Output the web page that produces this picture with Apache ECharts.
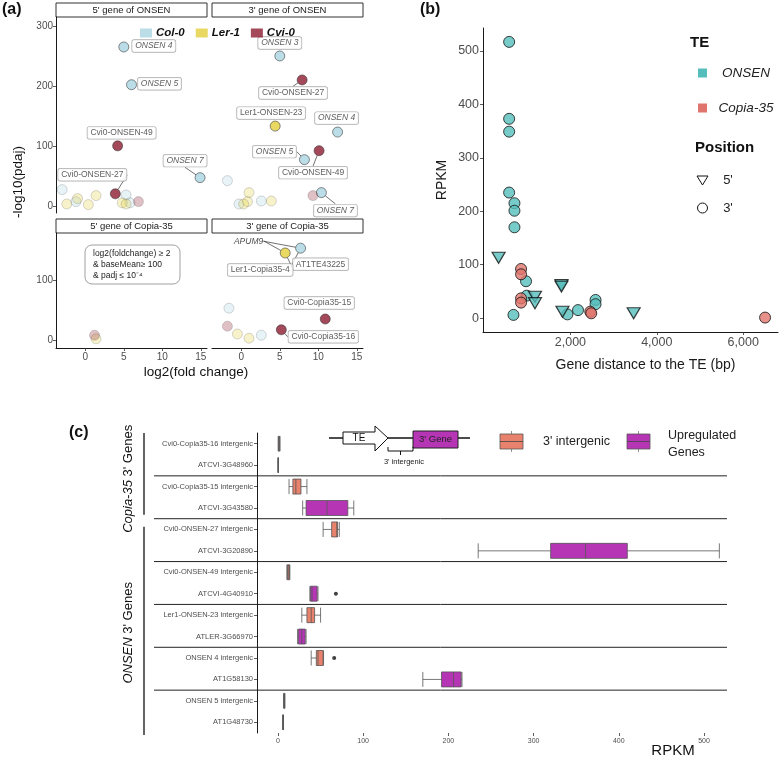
<!DOCTYPE html>
<html><head><meta charset="utf-8">
<script src="https://cdn.jsdelivr.net/npm/echarts@6/dist/echarts.min.js"></script>
<style>html,body{margin:0;padding:0;background:#fff}#c{width:780px;height:759px}</style>
</head><body><div id="c"></div>
<script>
// ===== Panel (a) data: [log2(fold change), -log10(padj), strain, label, gene]
const strains = ['Col-0', 'Ler-1', 'Cvi-0'];
const facetTitles = ["5' gene of ONSEN", "3' gene of ONSEN", "5' gene of Copia-35", "3' gene of Copia-35"];
const onsen5Points = [
  [-3.0, 27, 'Col-0', ''], [-2.4, 3, 'Ler-1', ''], [-1.2, 7, 'Col-0', ''], [-1.0, 12, 'Ler-1', ''],
  [0.4, 2, 'Ler-1', ''], [1.4, 17, 'Ler-1', ''], [5.3, 18, 'Col-0', ''], [4.8, 5, 'Ler-1', ''],
  [5.3, 3, 'Ler-1', ''], [5.8, 5, 'Col-0', ''], [6.9, 7, 'Cvi-0', ''],
  [5.0, 265, 'Col-0', 'ONSEN 4'], [6.0, 202, 'Col-0', 'ONSEN 5'], [4.2, 100, 'Cvi-0', 'Cvi0-ONSEN-49'],
  [3.9, 20, 'Cvi-0', 'Cvi0-ONSEN-27'], [14.9, 47, 'Col-0', 'ONSEN 7']
];
const onsen3Points = [
  [9.3, 17, 'Cvi-0', ''], [-1.8, 42, 'Col-0', ''], [1.0, 22, 'Ler-1', ''], [0.8, 7, 'Ler-1', ''],
  [-0.3, 3, 'Col-0', ''], [0.3, 3, 'Ler-1', ''], [2.6, 8, 'Col-0', ''], [3.9, 8, 'Ler-1', ''],
  [5.0, 250, 'Col-0', 'ONSEN 3'], [7.9, 210, 'Cvi-0', 'Cvi0-ONSEN-27'], [4.4, 133, 'Ler-1', 'Ler1-ONSEN-23'],
  [12.5, 123, 'Col-0', 'ONSEN 4'], [10.1, 92, 'Cvi-0', 'Cvi0-ONSEN-49'], [8.2, 77, 'Col-0', 'ONSEN 5'],
  [10.4, 22, 'Col-0', 'ONSEN 7']
];
const copia5Points = [
  [1.2, 8, 'Cvi-0', ''], [1.4, 2, 'Ler-1', '']
];
const copia3Points = [
  [-1.6, 53, 'Col-0', ''], [-1.8, 23, 'Cvi-0', ''], [-0.5, 10, 'Ler-1', ''], [1.0, 3, 'Ler-1', ''], [2.6, 8, 'Col-0', ''],
  [7.7, 153, 'Col-0', 'AT1TE43225', 'APUM9'], [5.7, 145, 'Ler-1', 'Ler1-Copia35-4', 'APUM9'],
  [10.9, 35, 'Cvi-0', 'Cvi0-Copia35-15'], [5.2, 17, 'Cvi-0', 'Cvi0-Copia35-16']
];
const aXTicks = [0, 5, 10, 15];
const aYTicksTop = [0, 100, 200, 300];
const aYTicksBottom = [0, 100];
const aAnnotation = ['log2(foldchange) \u2265 2', '& baseMean\u2265 100', '& padj \u2264 10\u207B\u2074'];

// ===== Panel (b) data: [gene distance to TE (bp), RPKM]
const onsen3Prime = [[582, 517], [582, 373], [582, 349], [582, 235], [705, 215], [705, 201], [705, 170],
  [973, 69], [988, 42], [682, 6], [1931, 7], [2176, 15], [2582, 34], [2582, 26]];
const onsen5Prime = [[338, 113], [1180, 40], [1180, 28], [1793, 62], [1793, 59], [1816, 12], [3464, 9]];
const copia3Prime = [[858, 92], [858, 82], [858, 37], [858, 29], [2460, 12], [2483, 9], [6506, 1]];
const bXTicks = [2000, 4000, 6000];
const bYTicks = [0, 100, 200, 300, 400, 500];

// ===== Panel (c) data: box stats [min, Q1, median, Q3, max] in RPKM
const rowNames = ['Cvi0-Copia35-16 intergenic', 'ATCVI-3G48960', 'Cvi0-Copia35-15 intergenic', 'ATCVI-3G43580',
  'Cvi0-ONSEN-27 intergenic', 'ATCVI-3G20890', 'Cvi0-ONSEN-49 intergenic', 'ATCVI-4G40910',
  'Ler1-ONSEN-23 intergenic', 'ATLER-3G66970', 'ONSEN 4 intergenic', 'AT1G58130',
  'ONSEN 5 intergenic', 'AT1G48730'];
const boxStats = [
  [0.2, 0.8, 1.2, 1.8, 2.5], [0.1, 0.2, 0.3, 0.4, 0.5],
  [13, 17.5, 21, 27, 34], [29, 33, 57.5, 82, 89],
  [53, 63, 69, 70, 72], [235, 320, 361, 410, 518],
  [10.5, 11, 12, 13.5, 14], [37.5, 38, 40, 46, 47],
  [28, 34, 39, 43, 50], [23, 24, 28, 32, 33],
  [39, 45, 47, 53, 53.5], [170, 192, 206, 215, 216],
  [6.5, 7, 7.3, 7.8, 8.2], [5.5, 5.8, 6, 6.2, 6.5]
];
const outlierPoints = [[68, 'ATCVI-4G40910'], [66, 'ONSEN 4 intergenic']];
const rowGroups = [{te: 'Copia-35', first: 0, last: 3}, {te: 'ONSEN', first: 4, last: 13}];
const cXTicks = [0, 100, 200, 300, 400, 500];

// ===== styles / layout
const FONT = "'Liberation Sans', Arial, Helvetica, sans-serif";
const strainColors = {'Col-0': '#AAD5E1', 'Ler-1': '#E3CF3C', 'Cvi-0': '#8C1C30'};
const TEAL = '#55BEBC', SALMON = '#E0756D';
const BOX_INTER = '#E8826C', BOX_GENE = '#B535B5';
const labelPlace = {
  '0|ONSEN 4': [30, -1, false], '0|ONSEN 5': [28, -1, false], '0|Cvi0-ONSEN-49': [4, -13, false],
  '0|Cvi0-ONSEN-27': [-23, -19, true], '0|ONSEN 7': [-15, -17, true],
  '1|ONSEN 3': [0, -13, false], '1|Cvi0-ONSEN-27': [-9, 13, true], '1|Ler1-ONSEN-23': [-4, -13, false],
  '1|ONSEN 4': [-1, -14, false], '1|Cvi0-ONSEN-49': [-6, 22, true], '1|ONSEN 5': [-30, -8, true],
  '1|ONSEN 7': [14, 18, true],
  '3|AT1TE43225': [20, 16, true], '3|Ler1-Copia35-4': [-25, 17, true], '3|Cvi0-Copia35-15': [-6, -16, false],
  '3|Cvi0-Copia35-16': [42, 7, true]
};
const genePlace = {'Col-0': [-52, -7], 'Ler-1': [-36, -12]};

const aGrids = [
  {left: 56, top: 17, width: 151, height: 196},
  {left: 212, top: 17, width: 151, height: 196},
  {left: 56, top: 233, width: 151, height: 115},
  {left: 212, top: 233, width: 151, height: 115}
];
const gridB = {left: 483, top: 28, width: 295, height: 304};
const gridC = {left: 257, top: 433, width: 485, height: 300};

const axisLineStyle = {color: '#1a1a1a', width: 1};
const tickStyle = {show: true, length: 3, lineStyle: {color: '#333', width: 0.8}};

const chart = echarts.init(document.getElementById('c'), null, {renderer: 'canvas'});

const xAxes = [], yAxes = [];
aGrids.forEach((g, f) => {
  const bottom = f >= 2, left = f % 2 === 0;
  xAxes.push({type: 'value', gridIndex: f, min: -3.8, max: 15.8, show: bottom,
    axisLine: {show: true, onZero: false, lineStyle: axisLineStyle},
    axisTick: Object.assign({}, tickStyle, {customValues: aXTicks}),
    axisLabel: {customValues: aXTicks, fontSize: 10, color: '#4d4d4d', margin: 4, fontFamily: FONT},
    splitLine: {show: false}});
  const yt = bottom ? aYTicksBottom : aYTicksTop;
  yAxes.push({type: 'value', gridIndex: f, min: bottom ? -13.3 : -12, max: bottom ? 178.3 : 315, show: left,
    axisLine: {show: true, onZero: false, lineStyle: axisLineStyle},
    axisTick: Object.assign({}, tickStyle, {customValues: yt}),
    axisLabel: {customValues: yt, fontSize: 10, color: '#4d4d4d', margin: 3, fontFamily: FONT},
    splitLine: {show: false}});
});
xAxes.push({type: 'value', gridIndex: 4, min: -23, max: 6805,
  name: 'Gene distance to the TE (bp)', nameLocation: 'middle', nameGap: 26,
  nameTextStyle: {fontSize: 14, color: '#1a1a1a', fontFamily: FONT, padding: [0, 0, 0, 30]},
  axisLine: {onZero: false, lineStyle: axisLineStyle},
  axisTick: Object.assign({}, tickStyle, {customValues: bXTicks}),
  axisLabel: {customValues: bXTicks, fontSize: 12.5, color: '#4d4d4d', margin: 4, fontFamily: FONT},
  splitLine: {show: false}});
yAxes.push({type: 'value', gridIndex: 4, min: -26, max: 543,
  name: 'RPKM', nameLocation: 'middle', nameGap: 34,
  nameTextStyle: {fontSize: 14, color: '#1a1a1a', fontFamily: FONT},
  axisLine: {onZero: false, lineStyle: axisLineStyle},
  axisTick: Object.assign({}, tickStyle, {customValues: bYTicks}),
  axisLabel: {customValues: bYTicks, fontSize: 12.5, color: '#4d4d4d', margin: 4, fontFamily: FONT},
  splitLine: {show: false}});
xAxes.push({type: 'value', gridIndex: 5, min: -24.6, max: 544.6,
  axisLine: {onZero: false, lineStyle: axisLineStyle},
  axisTick: Object.assign({}, tickStyle, {customValues: cXTicks}),
  axisLabel: {customValues: cXTicks, fontSize: 7, color: '#4d4d4d', margin: 5, fontFamily: FONT},
  splitLine: {show: false}});
yAxes.push({type: 'category', gridIndex: 5, data: rowNames, inverse: true,
  axisLine: {onZero: false, lineStyle: axisLineStyle},
  axisTick: Object.assign({}, tickStyle, {alignWithLabel: true}),
  axisLabel: {interval: 0, fontSize: 7.5, color: '#4d4d4d', margin: 4, fontFamily: FONT},
  splitLine: {show: false}});

const series = [];
const facets = [onsen5Points, onsen3Points, copia5Points, copia3Points];
facets.forEach((pts, f) => {
  strains.forEach(s => {
    const items = [], place = [];
    pts.forEach(p => {
      if (p[2] !== s) return;
      const item = {value: [p[0], p[1]]};
      if (!p[3]) {
        item.itemStyle = {opacity: 0.28};
      } else {
        const pl = labelPlace[f + '|' + p[3]] || [0, -12, false];
        item.label = {show: true, formatter: p[3], fontStyle: /^ONSEN \d/.test(p[3]) ? 'italic' : 'normal'};
        item.labelLine = {show: pl[2]};
        place[items.length] = pl;
      }
      items.push(item);
    });
    if (!items.length) return;
    series.push({type: 'scatter', name: s, xAxisIndex: f, yAxisIndex: f, data: items, symbolSize: 10,
      itemStyle: {color: strainColors[s], borderColor: '#333', borderWidth: 0.7},
      label: {show: false, position: 'inside', fontSize: 8.5, color: '#333', backgroundColor: '#fff',
        borderColor: '#9a9a9a', borderWidth: 0.7, borderRadius: 2, padding: [2, 3, 1, 3], fontFamily: FONT},
      labelLine: {show: false, lineStyle: {color: '#333', width: 0.7}},
      labelLayout: prm => { const o = place[prm.dataIndex]; return o ? {dx: o[0], dy: o[1]} : {}; },
      emphasis: {disabled: true}, silent: true, z: 3});
  });
  // gene-name annotations (italic, no box); repeated names share one text
  const gItems = [], gPlace = [], seen = {};
  pts.forEach(p => {
    if (!p[4]) return;
    gPlace.push(genePlace[p[2]] || [0, -14]);
    const dup = !!seen[p[4]];
    seen[p[4]] = true;
    gItems.push({value: [p[0], p[1]], label: {show: true, formatter: p[4], color: dup ? 'rgba(0,0,0,0)' : '#222'}, labelLine: {show: true}});
  });
  if (gItems.length) {
    series.push({type: 'scatter', xAxisIndex: f, yAxisIndex: f, data: gItems, symbolSize: 10,
      itemStyle: {color: 'rgba(0,0,0,0)'},
      label: {show: true, position: 'inside', fontSize: 8.5, fontStyle: 'italic', color: '#222', fontFamily: FONT},
      labelLine: {show: true, lineStyle: {color: '#333', width: 0.7}},
      labelLayout: prm => { const o = gPlace[prm.dataIndex]; return {dx: o[0], dy: o[1]}; },
      emphasis: {disabled: true}, silent: true, z: 2});
  }
});

const triPath = 'path://M0,0L12,0L6,10.4Z';
series.push({type: 'scatter', name: 'ONSEN', xAxisIndex: 4, yAxisIndex: 4, data: onsen3Prime, symbol: 'circle', symbolSize: 11,
  itemStyle: {color: TEAL, borderColor: '#111', borderWidth: 1}, emphasis: {disabled: true}, silent: true});
series.push({type: 'scatter', name: 'Copia-35', xAxisIndex: 4, yAxisIndex: 4, data: copia3Prime, symbol: 'circle', symbolSize: 11,
  itemStyle: {color: SALMON, borderColor: '#111', borderWidth: 1}, emphasis: {disabled: true}, silent: true});
series.push({type: 'scatter', name: 'ONSEN', xAxisIndex: 4, yAxisIndex: 4, data: onsen5Prime, symbol: triPath, symbolSize: [13, 11],
  itemStyle: {color: TEAL, borderColor: '#111', borderWidth: 1.2}, emphasis: {disabled: true}, silent: true});

series.push({type: 'boxplot', xAxisIndex: 5, yAxisIndex: 5, boxWidth: [15, 15],
  data: boxStats.map((v, i) => ({value: v, itemStyle: {color: /intergenic/.test(rowNames[i]) ? BOX_INTER : BOX_GENE}})),
  itemStyle: {borderColor: '#555', borderWidth: 0.8}, emphasis: {disabled: true}, silent: true});
series.push({type: 'scatter', xAxisIndex: 5, yAxisIndex: 5, data: outlierPoints, symbolSize: 4,
  itemStyle: {color: '#111'}, emphasis: {disabled: true}, silent: true});

chart.setOption({
  animation: false,
  textStyle: {fontFamily: FONT},
  grid: aGrids.concat([gridB, gridC]),
  xAxis: xAxes, yAxis: yAxes,
  legend: [{data: strains, left: 135, top: 22, icon: 'rect', itemWidth: 12, itemHeight: 9, itemGap: 11,
    selectedMode: false, itemStyle: {borderWidth: 0},
    textStyle: {fontSize: 11.5, fontWeight: 'bold', fontStyle: 'italic', color: '#111', fontFamily: FONT, padding: [0, 0, 0, -1]}}],
  series: series
});

// ===== decorations
const G = [];
const txt = (x, y, text, o) => G.push(Object.assign({type: 'text', x: x, y: y, silent: true,
  style: Object.assign({text: text, fontFamily: FONT, fontSize: 12, fill: '#111', align: 'left', verticalAlign: 'middle'}, (o && o.style) || {})},
  o && o.rotation != null ? {rotation: o.rotation} : {}));
const line = (x1, y1, x2, y2, w, c) => G.push({type: 'line', silent: true, shape: {x1: x1, y1: y1, x2: x2, y2: y2},
  style: {stroke: c || '#111', lineWidth: w || 1}});

txt(2, 10, '(a)', {style: {fontSize: 16, fontWeight: 'bold'}});
txt(420, 10, '(b)', {style: {fontSize: 16, fontWeight: 'bold'}});
txt(69, 433, '(c)', {style: {fontSize: 16, fontWeight: 'bold'}});

// facet strips
aGrids.forEach((g, f) => {
  const top = f < 2 ? 3 : 219;
  const h = g.top - top;
  G.push({type: 'rect', silent: true, shape: {x: g.left, y: top, width: g.width, height: h},
    style: {fill: '#fff', stroke: '#333', lineWidth: 1}});
  txt(g.left + g.width / 2, top + h / 2 + 0.5, facetTitles[f], {style: {fontSize: 9.5, align: 'center', fill: '#1a1a1a'}});
});
txt(18, 182, '-log10(pdaj)', {rotation: Math.PI / 2, style: {fontSize: 13.5, align: 'center'}});
txt(196, 372, 'log2(fold change)', {style: {fontSize: 13.5, align: 'center'}});
// annotation box in 5' gene of Copia-35
G.push({type: 'rect', silent: true, shape: {x: 85, y: 245, width: 95, height: 39, r: 7},
  style: {fill: '#fff', stroke: '#888', lineWidth: 0.8}});
aAnnotation.forEach((t, i) => txt(93, 254 + i * 11, t, {style: {fontSize: 8.5, fill: '#222'}}));

// panel (b) legend
txt(690, 43, 'TE', {style: {fontSize: 15, fontWeight: 'bold'}});
[[TEAL, 'ONSEN', 73], [SALMON, 'Copia-35', 108]].forEach(d => {
  G.push({type: 'rect', silent: true, shape: {x: 698, y: d[2] - 4.5, width: 9, height: 9}, style: {fill: d[0]}});
  txt(746, d[2], d[1], {style: {fontSize: 13.5, fontStyle: 'italic', align: 'center', fill: '#222'}});
});
txt(695, 148, 'Position', {style: {fontSize: 15, fontWeight: 'bold'}});
G.push({type: 'polygon', silent: true, shape: {points: [[697, 176], [708, 176], [702.5, 185]]},
  style: {fill: '#fff', stroke: '#111', lineWidth: 1}});
G.push({type: 'circle', silent: true, shape: {cx: 702.5, cy: 208, r: 5}, style: {fill: '#fff', stroke: '#111', lineWidth: 1}});
txt(728, 180, "5'", {style: {fontSize: 13, align: 'center', fill: '#222'}});
txt(728, 208, "3'", {style: {fontSize: 13, align: 'center', fill: '#222'}});

// panel (c) separators, group brackets and labels
const rowY = rowNames.map(n => chart.convertToPixel({yAxisIndex: 5}, n));
const band = rowY[1] - rowY[0];
rowGroups.forEach((gr, gi) => {
  for (let i = gr.first + 1; i <= gr.last; i += 2) {
    if (i < gr.last) line(154, (rowY[i] + rowY[i + 1]) / 2, 727, (rowY[i] + rowY[i + 1]) / 2, 1, '#222');
  }
  if (gi > 0) line(154, (rowY[gr.first - 1] + rowY[gr.first]) / 2, 727, (rowY[gr.first - 1] + rowY[gr.first]) / 2, 1, '#222');
  const y1 = rowY[gr.first] - band / 2 + (gi > 0 ? 8 : 0);
  const y2 = rowY[gr.last] + band / 2 + (gi > 0 ? 2 : -4);
  line(144, y1, 144, y2, 1.3, '#111');
  txt(128, (y1 + y2) / 2 + (gi === 0 ? 5 : 2), '{i|' + gr.te + "} 3' Genes", {rotation: Math.PI / 2,
    style: {fontSize: 13, align: 'center', rich: {i: {fontStyle: 'italic', fontSize: 13, fontFamily: FONT, fill: '#111'}}}});
});
txt(673, 751, 'RPKM', {style: {fontSize: 15, align: 'center'}});

// panel (c) legend: schematic + box keys
line(329, 438, 343, 438, 1.5);
G.push({type: 'polygon', silent: true, shape: {points: [[343, 432], [375, 432], [375, 426], [388, 438], [375, 451], [375, 444], [343, 444]]},
  style: {fill: '#fff', stroke: '#111', lineWidth: 1}});
txt(359, 438, 'TE', {style: {fontSize: 10, align: 'center'}});
line(388, 438, 413, 438, 1.5);
G.push({type: 'rect', silent: true, shape: {x: 413, y: 431, width: 45, height: 17}, style: {fill: BOX_GENE, stroke: '#222', lineWidth: 1}});
txt(435.5, 439.5, "3' Gene", {style: {fontSize: 9.5, align: 'center', fill: '#222'}});
line(458, 438, 470, 438, 1.5);
G.push({type: 'polyline', silent: true, shape: {points: [[388, 447], [388, 451], [413, 451], [413, 447]]}, style: {stroke: '#111', lineWidth: 1, fill: null}});
line(400.5, 451, 400.5, 455, 1);
txt(404, 462, "3' intergenic", {style: {fontSize: 7.5, align: 'center', fill: '#222'}});
[[BOX_INTER, 500], [BOX_GENE, 627]].forEach(d => {
  line(d[1] + 11.5, 431, d[1] + 11.5, 452, 0.8, '#777');
  G.push({type: 'rect', silent: true, shape: {x: d[1], y: 434, width: 23, height: 15}, style: {fill: d[0], stroke: '#555', lineWidth: 0.8}});
  line(d[1], 441.5, d[1] + 23, 441.5, 0.8, '#444');
});
txt(543, 442, "3' intergenic", {style: {fontSize: 12.5, fill: '#222'}});
txt(668, 436, 'Upregulated', {style: {fontSize: 12.5, fill: '#222'}});
txt(668, 453, 'Genes', {style: {fontSize: 12.5, fill: '#222'}});

chart.setOption({graphic: {elements: G}});
</script></body></html>
